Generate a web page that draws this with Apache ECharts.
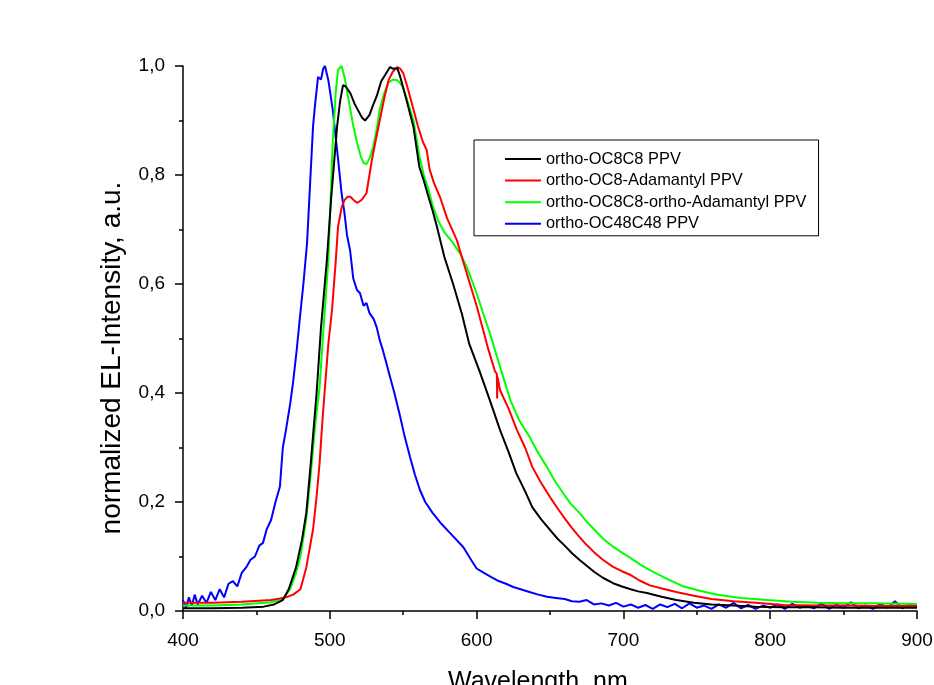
<!DOCTYPE html>
<html>
<head>
<meta charset="utf-8">
<script src="https://cdn.jsdelivr.net/npm/echarts@6/dist/echarts.min.js"></script>
<style>html,body{margin:0;padding:0;background:#fff;}#c{width:934px;height:685px;}</style>
</head>
<body>
<div id="c"></div>
<script>
const seriesNames = ['ortho-OC8C8 PPV','ortho-OC8-Adamantyl PPV','ortho-OC8C8-ortho-Adamantyl PPV','ortho-OC48C48 PPV'];
const xTicks = [400,500,600,700,800,900];
const yTicks = [0,0.2,0.4,0.6,0.8,1.0];
const xTitle = 'Wavelength, nm';
const yTitle = 'normalized EL-Intensity, a.u.';

const blackWl = [400,420,440,455,462,468,472,477,481,484,487,491,494,498,501,505,507,509,511,514,517,519,522,524,527,529,532,535,538,541,543,546,548,550,553,557,561,564,567,570,573,578,584,590,595,602,609,616,622,627,633,638,644,650,655,660,665,670,675,680,686,693,699,705,710,716,726,736,748,760,775,790,810,830,850,870,900];
const blackVal = [0.005,0.005,0.006,0.008,0.012,0.02,0.04,0.08,0.13,0.18,0.27,0.40,0.52,0.644,0.76,0.89,0.935,0.965,0.962,0.95,0.93,0.92,0.905,0.90,0.91,0.925,0.945,0.972,0.985,0.998,0.995,0.996,0.98,0.96,0.93,0.888,0.815,0.79,0.762,0.735,0.705,0.65,0.60,0.545,0.49,0.44,0.387,0.332,0.29,0.253,0.22,0.19,0.168,0.149,0.133,0.12,0.106,0.094,0.083,0.072,0.061,0.051,0.045,0.04,0.036,0.033,0.026,0.02,0.015,0.012,0.01,0.008,0.007,0.007,0.006,0.006,0.006];

const redWl = [400,420,440,460,470,475,480,484,488.6,491,493,495,497,499,501.5,504,505.6,508,510,512,514,517,519,522,525,527,528.7,531,534,537,540,543,546,548,550,553,557,560,563.5,566,568,571,575,580,586.6,591,595.5,600,604,608,612.5,613.8,614,614.2,616,622,627.5,633,638,644,650,655,660,665,670,675,680,686,693,699,705,711,718,727,736,748,760,775,790,809,830,850,875,900];
const redVal = [0.015,0.015,0.017,0.02,0.025,0.03,0.04,0.08,0.15,0.21,0.27,0.35,0.42,0.49,0.552,0.64,0.705,0.74,0.754,0.76,0.76,0.752,0.749,0.755,0.767,0.80,0.828,0.86,0.90,0.94,0.974,0.99,0.998,0.995,0.987,0.96,0.92,0.89,0.86,0.846,0.81,0.785,0.76,0.72,0.68,0.64,0.60,0.56,0.52,0.48,0.44,0.435,0.39,0.43,0.405,0.37,0.332,0.30,0.264,0.235,0.209,0.189,0.17,0.152,0.136,0.121,0.108,0.094,0.081,0.073,0.066,0.056,0.047,0.041,0.035,0.028,0.022,0.018,0.015,0.011,0.01,0.01,0.009,0.009];

const greenWl = [400,420,440,460,468,473,477,480,484,487,490,493,496,499,502,504,505.6,508,510,512,514,516,518.5,521,523,525,527,529.4,532,534,537,540,543,546,548,550,553,557,561,564,567,570,574,578,584,589,593.5,597,600,604,609,616,623,629,636,642,648,653,659,664,670,675,680,686,693,699,705,711,718,729,740,752,764,780,798,815,832,850,870,900];
const greenVal = [0.01,0.01,0.012,0.016,0.022,0.04,0.07,0.10,0.17,0.25,0.34,0.41,0.53,0.644,0.86,0.95,0.993,1.0,0.98,0.95,0.92,0.89,0.86,0.835,0.822,0.82,0.83,0.85,0.885,0.92,0.95,0.97,0.975,0.974,0.968,0.96,0.935,0.90,0.835,0.80,0.775,0.745,0.715,0.695,0.675,0.655,0.63,0.605,0.583,0.55,0.51,0.448,0.387,0.35,0.32,0.29,0.264,0.24,0.216,0.197,0.18,0.164,0.15,0.133,0.118,0.107,0.097,0.086,0.075,0.06,0.046,0.037,0.03,0.024,0.02,0.017,0.015,0.014,0.014,0.013];

const blueWl = [400,402,404,406,408,410,413,416,419,422,425,428,431,434,437,440,443,446,449,452,454.5,457,460,463,466,468,470,473,475,477.5,479.7,482,484.5,486.5,488.6,490,492,494,495.5,496.7,499,502,504,505.6,508,510,511.7,513.8,516,518.5,520.6,523,525,527,530,532,534,536,538,541,544,548,551,554.6,558,561.4,565,570,576,582,591,596,600,605,610,615,620,625,630,636,642,648,654,660,665,670,675,680,685,690,695,700,705,710,715,720,725,730,735,740,745,750,755,760,765,770,775,780,785,790,795,800,805,810,815,820,825,830,835,840,845,850,855,860,865,870,875,880,885,890,895,900];
const blueVal = [0.02,0.005,0.025,0.01,0.03,0.012,0.028,0.015,0.035,0.02,0.04,0.025,0.05,0.055,0.045,0.07,0.08,0.094,0.1,0.12,0.125,0.15,0.167,0.2,0.228,0.30,0.33,0.38,0.42,0.48,0.54,0.6,0.675,0.78,0.89,0.93,0.98,0.975,0.995,1.0,0.974,0.92,0.87,0.83,0.767,0.73,0.69,0.662,0.61,0.589,0.583,0.56,0.565,0.547,0.535,0.52,0.497,0.48,0.46,0.43,0.40,0.356,0.32,0.283,0.25,0.222,0.2,0.18,0.16,0.143,0.117,0.095,0.078,0.07,0.062,0.055,0.05,0.044,0.04,0.035,0.03,0.026,0.024,0.022,0.018,0.017,0.02,0.012,0.014,0.01,0.015,0.008,0.012,0.006,0.011,0.004,0.012,0.007,0.013,0.005,0.014,0.006,0.01,0.004,0.012,0.006,0.015,0.005,0.011,0.004,0.01,0.006,0.012,0.004,0.013,0.006,0.009,0.005,0.014,0.004,0.011,0.006,0.016,0.005,0.01,0.004,0.013,0.006,0.018,0.005,0.012,0.007];

function pairs(w, v) { return w.map((x, i) => [x, v[i]]); }
const seriesData = [pairs(blackWl, blackVal), pairs(redWl, redVal), pairs(greenWl, greenVal), pairs(blueWl, blueVal)];
const colors = ['#000000','#ff0000','#00ff00','#0000ff'];
const drawOrder = [3,2,1,0];

const chart = echarts.init(document.getElementById('c'), null, {renderer: 'canvas'});
const font = 'Liberation Sans, Arial, sans-serif';
const lineIcon = 'path://M0,0M36,13M0,5.5L36,5.5L36,7.5L0,7.5Z';
chart.setOption({
  animation: false,
  backgroundColor: '#ffffff',
  grid: {left: 183, right: 17, top: 66, bottom: 74, containLabel: false, outerBoundsMode: 'none'},
  legend: {
    data: seriesNames.map(n => ({name: n, icon: lineIcon})),
    orient: 'vertical',
    left: 474, top: 140,
    padding: [11, 12, 4, 31],
    itemWidth: 36, itemHeight: 13, itemGap: 5.6,
    itemTextGap: 5,
    borderColor: '#000', borderWidth: 1,
    textStyle: {fontFamily: font, fontSize: 16.4, color: '#000'}
  },
  graphic: [
    {type: 'text', left: 448, top: 670, z: 10,
     style: {text: xTitle, fontFamily: font, fontSize: 25, fill: '#000'}},
    {type: 'text', rotation: Math.PI / 2, x: 112, y: 358, z: 10,
     style: {text: yTitle, fontFamily: font, fontSize: 28, fill: '#000', align: 'center', verticalAlign: 'middle'}}
  ],
  xAxis: {
    type: 'value', min: 400, max: 900, interval: 100,
    axisLine: {show: true, onZero: false, lineStyle: {color: '#000', width: 1.5}},
    axisTick: {show: true, inside: false, length: 8, lineStyle: {color: '#000', width: 1.5}},
    minorTick: {show: true, splitNumber: 2, length: 4, lineStyle: {color: '#000', width: 1.5}},
    axisLabel: {fontFamily: font, fontSize: 19, color: '#000', margin: 20,
      formatter: v => xTicks.includes(v) ? String(v) : ''},
    splitLine: {show: false}
  },
  yAxis: {
    type: 'value', min: 0, max: 1, interval: 0.2,
    axisLine: {show: true, onZero: false, lineStyle: {color: '#000', width: 1.5}},
    axisTick: {show: true, inside: false, length: 8, lineStyle: {color: '#000', width: 1.5}},
    minorTick: {show: true, splitNumber: 2, length: 4, lineStyle: {color: '#000', width: 1.5}},
    axisLabel: {fontFamily: font, fontSize: 19, color: '#000', margin: 18,
      formatter: v => { const t = yTicks.find(k => Math.abs(k - v) < 1e-9); return t === undefined ? '' : t.toFixed(1).replace('.', ','); }},
    splitLine: {show: false}
  },
  series: seriesNames.map((n, i) => ({
    name: n, type: 'line', data: seriesData[i], symbol: 'none', showSymbol: false,
    z: 2 + drawOrder[i],
    lineStyle: {color: colors[i], width: 2}, itemStyle: {color: colors[i]}
  }))
});
</script>
</body>
</html>
